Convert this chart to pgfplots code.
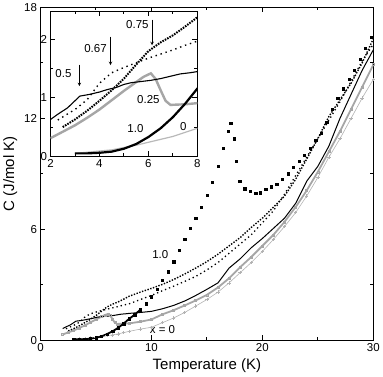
\documentclass[border=0pt]{standalone}
\usepackage{fontspec}
\setmainfont{Liberation Sans}
\usepackage{pgfplots}
\usepackage{pgfplotstable}
\pgfplotsset{compat=1.18}

% specific heat data, C in J/mol K vs T in K
\pgfplotstableread{
T C
3.0 0.05
3.5 0.05
4.0 0.06
4.5 0.08
5.0 0.13
5.5 0.21
6.0 0.33
6.5 0.48
7.0 0.67
7.5 0.90
8.0 1.16
8.5 1.38
9.0 1.65
9.5 1.97
10.0 2.35
10.5 2.75
11.0 3.25
11.5 3.70
12.0 4.25
12.5 4.85
13.0 5.45
13.5 6.05
14.0 6.60
14.5 7.20
15.0 7.85
15.5 8.55
16.0 9.40
16.5 10.40
16.9 11.30
17.15 11.75
17.45 10.90
17.65 9.70
17.95 8.60
18.4 8.20
18.9 8.05
19.4 7.95
19.8 7.98
20.3 8.15
20.8 8.30
21.3 8.45
21.8 8.70
22.3 9.00
22.8 9.35
23.3 9.70
23.8 10.00
24.3 10.40
24.8 10.80
25.3 11.20
25.8 11.80
26.3 12.50
26.8 13.10
27.3 13.60
27.8 14.10
28.3 14.60
28.8 15.20
29.3 15.80
29.8 16.40
}\xten

\pgfplotstableread{
T C
2.5 0.50
3.0 0.63
3.5 0.78
4.0 0.95
4.5 1.13
5.0 1.33
5.5 1.57
6.0 1.80
6.5 1.95
7.0 2.07
7.5 2.22
8.0 2.38
9.0 2.60
10.0 2.80
11.0 3.02
12.0 3.28
13.0 3.58
14.0 3.90
15.0 4.25
16.0 4.65
17.0 5.10
18.0 5.55
19.0 6.10
20.0 6.60
21.0 7.20
22.0 7.80
23.0 8.70
24.0 9.80
25.0 10.90
26.0 12.10
27.0 13.00
28.0 13.90
29.0 15.00
30.0 16.30
}\xsevenfive

\pgfplotstableread{
T C
2.3 0.62
2.6 0.70
3.0 0.80
3.5 0.97
4.0 1.25
4.5 1.43
5.0 1.52
5.5 1.60
6.0 1.68
6.5 1.75
7.0 1.82
7.5 1.90
8.0 1.97
9.0 2.20
10.0 2.42
11.0 2.68
12.0 2.92
13.0 3.18
14.0 3.45
15.0 3.80
16.0 4.20
17.0 4.70
18.0 5.20
19.0 5.70
20.0 6.35
21.0 7.00
22.0 7.90
23.0 8.90
24.0 9.90
25.0 10.90
26.0 11.90
27.0 12.90
28.0 14.00
29.0 15.10
30.0 16.00
}\xsixseven

\pgfplotstableread{
T C
2.0 0.63
2.3 0.72
2.7 0.83
3.0 0.95
3.2 1.03
3.6 1.06
4.0 1.10
4.3 1.14
4.7 1.18
5.0 1.23
5.3 1.26
5.7 1.28
6.1 1.30
6.5 1.33
6.9 1.37
7.3 1.41
7.7 1.43
8.0 1.45
9.0 1.50
10.0 1.56
11.0 1.70
12.0 1.88
13.0 2.12
14.0 2.42
15.0 2.75
16.0 3.10
17.0 3.90
18.0 4.40
19.0 5.00
20.0 5.50
21.0 6.05
22.0 6.60
23.0 7.40
24.0 8.60
25.0 9.40
26.0 10.50
27.0 12.00
28.0 13.30
29.0 14.60
30.0 15.70
}\xfive

\pgfplotstableread{
T C
2.0 0.31
2.5 0.42
3.0 0.53
3.5 0.66
4.0 0.80
4.5 0.96
5.0 1.12
5.5 1.27
5.8 1.36
6.1 1.42
6.3 1.32
6.5 1.13
6.7 0.95
6.9 0.88
7.5 0.89
8.0 0.91
9.0 1.00
10.0 1.12
11.0 1.40
12.0 1.62
13.0 1.88
14.0 2.15
15.0 2.45
16.0 2.85
17.0 3.35
18.0 3.95
19.0 4.50
20.0 5.10
21.0 5.70
22.0 6.40
23.0 7.20
24.0 8.10
25.0 9.10
26.0 10.20
27.0 11.30
28.0 12.50
29.0 13.70
30.0 14.90
}\xtwofive

\pgfplotstableread{
T C
3.0 0.05
3.5 0.07
4.0 0.09
4.5 0.11
5.0 0.15
5.5 0.19
6.0 0.24
6.5 0.29
7.0 0.34
7.5 0.41
8.0 0.48
9.0 0.60
10.0 0.70
11.0 0.95
12.0 1.20
13.0 1.50
14.0 1.85
15.0 2.20
16.0 2.60
17.0 3.10
18.0 3.65
19.0 4.20
20.0 4.80
21.0 5.45
22.0 6.15
23.0 6.90
24.0 7.80
25.0 8.80
26.0 9.90
27.0 10.90
28.0 12.00
29.0 13.10
30.0 14.10
}\xzero

\pgfplotsset{
  heat/.style={
    scale only axis,
    tick align=inside,
    tick pos=both,
    axis line style={line width=0.9pt},
    every tick/.style={black, line width=0.9pt},
    major tick length=5pt,
    minor tick length=3pt,
    tick label style={font=\fontsize{11.5}{13}\selectfont},
    /pgf/number format/assume math mode=true,
  },
}

\begin{document}
\begin{tikzpicture}
\begin{axis}[heat,
    width=333pt, height=333pt,
    xmin=0, xmax=30, ymin=0, ymax=18,
    xtick={0,10,20,30}, minor xtick={5,15,25},
    ytick={0,6,12,18}, minor ytick={3,9,15},
    xlabel={Temperature (K)},
    ylabel={C (J/mol K)},
    label style={font=\fontsize{15}{18}\selectfont},
    clip=true,
]
\addplot[gray!60, line width=0.6pt, mark=+, mark size=1.7pt] table {\xzero};
\addplot[gray!70, line width=1.8pt, mark=square, mark size=1pt,
  mark options={line width=0.6pt}] table {\xtwofive};
\addplot[black, line width=1.0pt] table {\xfive};
\addplot[black, line width=1.3pt, dash pattern=on 1.3pt off 3pt] table {\xsixseven};
\addplot[black, line width=1.4pt, dash pattern=on 1.4pt off 1.5pt] table {\xsevenfive};
\addplot[black, line width=1.8pt, restrict x to domain=3:9] table {\xten};
\addplot[black, only marks, mark=square*, mark size=1.15pt] table {\xten};
\node[font=\fontsize{11.5}{13}\selectfont] at (axis cs:10.8,4.65) {1.0};
\node[font=\fontsize{11.5}{13}\selectfont] at (axis cs:11.0,0.6) {x = 0};
\end{axis}

\begin{axis}[heat,
    at={(10pt,184pt)}, anchor=south west,
    width=147pt, height=145pt,
    xmin=2, xmax=8, ymin=0, ymax=2.48,
    xtick={2,4,6,8}, minor xtick={3,5,7},
    ytick={0,1,2}, minor ytick={0.5,1.5},
    axis background/.style={fill=white},
    clip=true,
]
\addplot[gray!55, line width=1.2pt] table {\xzero};
\addplot[gray!70, line width=2.4pt] table {\xtwofive};
\addplot[black, line width=1.1pt] table {\xfive};
\addplot[black, line width=1.4pt, dash pattern=on 1.4pt off 3.8pt] table {\xsixseven};
\addplot[black, line width=2.0pt, dash pattern=on 1.6pt off 1.1pt] table {\xsevenfive};
\addplot[black, line width=2.2pt] table {\xten};
\begin{scope}[font=\fontsize{11.5}{13}\selectfont]
\node at (axis cs:2.53,1.42) {0.5};
\node at (axis cs:3.84,1.85) {0.67};
\node at (axis cs:5.55,2.26) {0.75};
\node at (axis cs:6.0,0.97) {0.25};
\node at (axis cs:5.47,0.48) {1.0};
\node at (axis cs:7.43,0.51) {0};
\end{scope}
\draw[->, >=stealth, line width=0.6pt] (axis cs:3.18,1.57) -- (axis cs:3.18,1.20);
\draw[->, >=stealth, line width=0.6pt] (axis cs:4.45,2.05) -- (axis cs:4.45,1.56);
\draw[->, >=stealth, line width=0.6pt] (axis cs:6.15,2.34) -- (axis cs:6.15,1.90);
\end{axis}
\end{tikzpicture}
\end{document}
